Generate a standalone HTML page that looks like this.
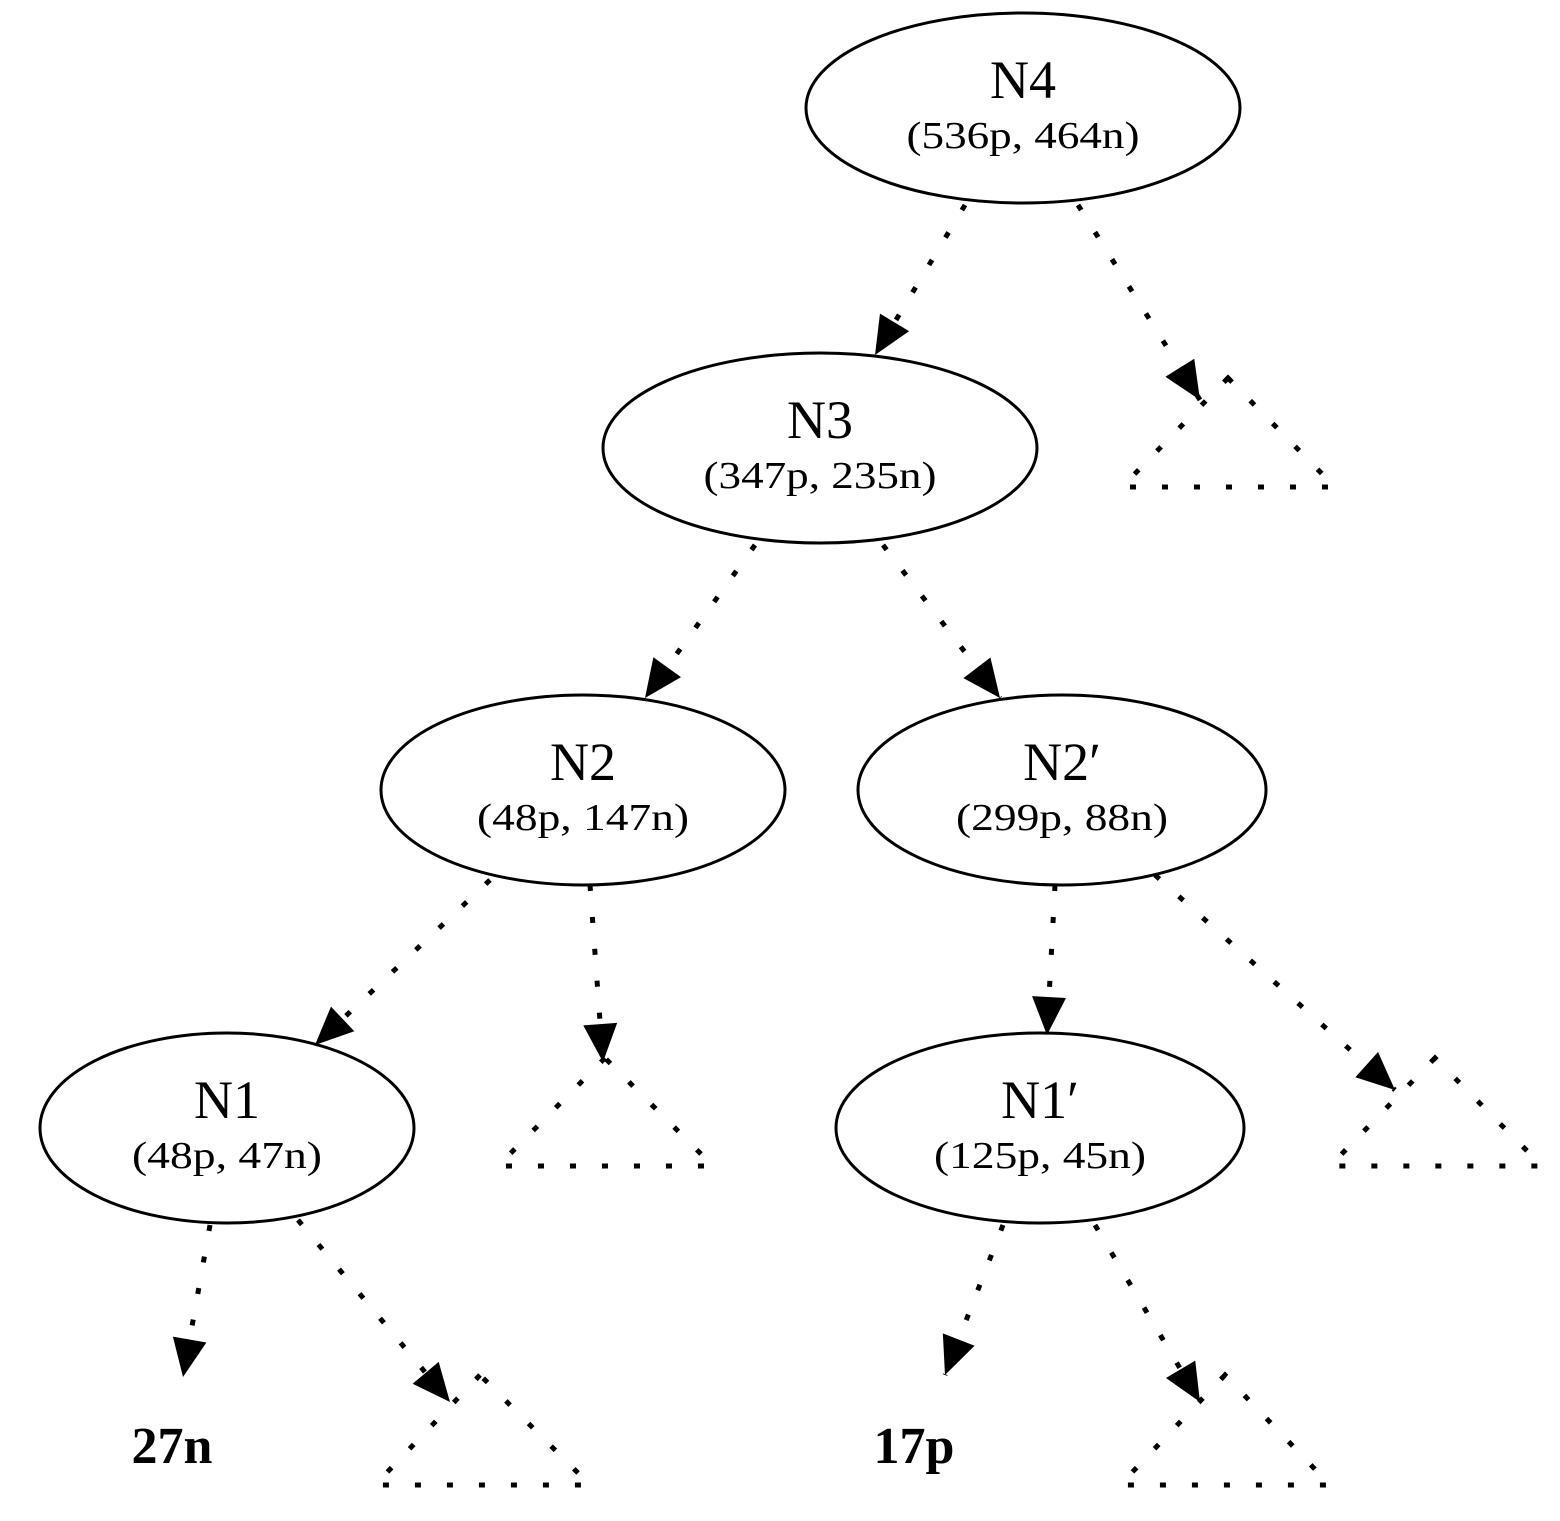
<!DOCTYPE html>
<html><head><meta charset="utf-8"><style>html,body{margin:0;padding:0;background:#fff}svg{display:block}text{font-family:"Liberation Serif","Times New Roman",serif}</style></head>
<body>
<svg width="1560" height="1521" viewBox="0 0 1560 1521" xmlns="http://www.w3.org/2000/svg">
<defs>
<marker id="a" viewBox="0 0 10 10" refX="10" refY="5" markerWidth="10" markerHeight="10" markerUnits="userSpaceOnUse" orient="auto" style="overflow:visible">
<path d="M-38,-17 L0,0 L-38,17 Z" transform="translate(10,5)" fill="#000"/>
</marker>
</defs>
<g fill="none" stroke="#000" stroke-width="3">
<ellipse cx="1023" cy="108" rx="217" ry="95"/>
<ellipse cx="820" cy="448" rx="217" ry="95"/>
<ellipse cx="583" cy="790" rx="202" ry="95"/>
<ellipse cx="1062" cy="790" rx="204" ry="95"/>
<ellipse cx="227" cy="1128" rx="187" ry="95"/>
<ellipse cx="1040" cy="1128" rx="204" ry="95"/>
</g>
<g fill="none" stroke="#000" stroke-width="5" stroke-dasharray="6 26">
<path d="M1228,378 L1122,487 L1335,487 Z"/>
<path d="M605,1058 L498,1166 L713,1166 Z"/>
<path d="M1435,1058 L1330,1166 L1542,1166 Z"/>
<path d="M480,1375 L375,1485 L590,1485 Z"/>
<path d="M1225,1375 L1120,1485 L1330,1485 Z"/>
</g>
<g stroke="#000" stroke-width="5" stroke-dasharray="6 26" fill="none">
<line x1="965" y1="205" x2="875" y2="355" marker-end="url(#a)"/>
<line x1="1078" y1="205" x2="1200" y2="400" marker-end="url(#a)"/>
<line x1="755" y1="545" x2="645" y2="698" marker-end="url(#a)"/>
<line x1="883" y1="545" x2="1000" y2="698" marker-end="url(#a)"/>
<line x1="490" y1="880" x2="315" y2="1045" marker-end="url(#a)"/>
<line x1="590" y1="885" x2="603" y2="1062" marker-end="url(#a)"/>
<line x1="1055" y1="885" x2="1047" y2="1035" marker-end="url(#a)"/>
<line x1="1155" y1="875" x2="1395" y2="1090" marker-end="url(#a)"/>
<line x1="210" y1="1225" x2="183" y2="1377" marker-end="url(#a)"/>
<line x1="298" y1="1220" x2="450" y2="1402" marker-end="url(#a)"/>
<line x1="1003" y1="1225" x2="945" y2="1375" marker-end="url(#a)"/>
<line x1="1095" y1="1225" x2="1200" y2="1402" marker-end="url(#a)"/>
</g>
<g fill="#000" text-anchor="middle">
<text x="1023" y="98" font-size="54">N4</text>
<text x="1023" y="148" font-size="38" textLength="233" lengthAdjust="spacingAndGlyphs">(536p, 464n)</text>
<text x="820" y="438" font-size="54">N3</text>
<text x="820" y="488" font-size="38" textLength="233" lengthAdjust="spacingAndGlyphs">(347p, 235n)</text>
<text x="583" y="780" font-size="54">N2</text>
<text x="583" y="830" font-size="38" textLength="212" lengthAdjust="spacingAndGlyphs">(48p, 147n)</text>
<text x="1062" y="780" font-size="54">N2′</text>
<text x="1062" y="830" font-size="38" textLength="212" lengthAdjust="spacingAndGlyphs">(299p, 88n)</text>
<text x="227" y="1118" font-size="54">N1</text>
<text x="227" y="1168" font-size="38" textLength="190" lengthAdjust="spacingAndGlyphs">(48p, 47n)</text>
<text x="1040" y="1118" font-size="54">N1′</text>
<text x="1040" y="1168" font-size="38" textLength="212" lengthAdjust="spacingAndGlyphs">(125p, 45n)</text>
<text x="172" y="1463" font-size="52" font-weight="bold">27n</text>
<text x="914" y="1463" font-size="52" font-weight="bold">17p</text>
</g>
</svg>
</body></html>
